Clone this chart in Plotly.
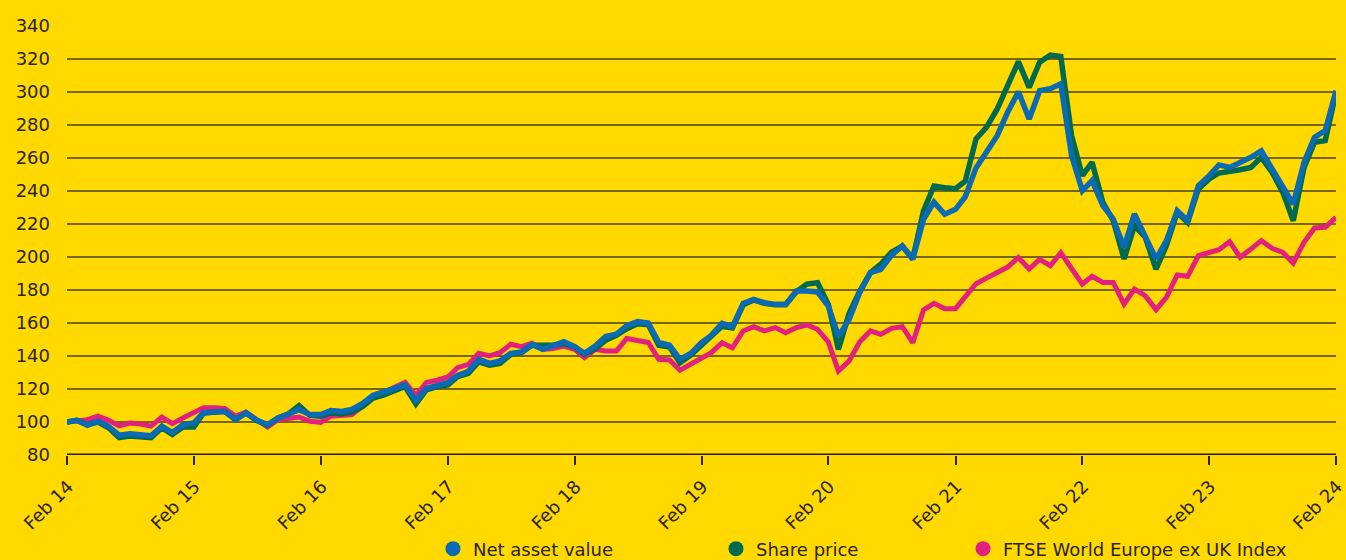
import pandas as pd
import plotly.graph_objects as go

# Monthly observations, Feb 2014 .. Feb 2024 (rebased to 100)
dates = pd.date_range("2014-02-01", periods=121, freq="MS")

nav = [100, 101, 98, 100.4, 97.3, 92, 92.8, 92, 91.7, 97.5, 93.6, 98.4,
       99.4, 105.6, 106, 106.4, 101.4, 105.6, 101, 98.4, 102.3, 104.5, 107.5, 104.5,
       104.5, 107, 106.4, 107.6, 111.3, 116.3, 118, 120.4, 122.5, 113, 120.3, 122.3,
       123.8, 128.2, 130.8, 138, 135.5, 137, 141.6, 142.4, 147, 144, 146, 148.6,
       145.7, 141.6, 146, 151.8, 153.3, 158.4, 160.8, 160, 148.2, 146.5, 138, 141.6,
       148.2, 152.5, 159.8, 157.8, 171.9, 174.3, 172.3, 171.3, 171.3, 179.4, 179.4, 178.8,
       170.3, 152, 162.2, 178.4, 190.5, 192.5, 201, 206.7, 198.6, 222.8, 233.3, 225.9,
       228.9, 236.5, 254, 263.4, 273.5, 287.7, 300.2, 283.6, 300.8, 302, 305, 261.4,
       240.2, 246.3, 231.1, 223, 205.9, 226.1, 212.9, 198.8, 209.9, 228.1, 222, 243.2,
       249.3, 255.8, 254.3, 257, 260.4, 264.4, 253.3, 242.2, 232.1, 257.4, 272.5, 276.6,
       300.8]

share_price = [100, 101, 98.5, 100, 96.5, 90.5, 91.5, 91, 90.5, 96.5, 92.5, 97,
               97, 105.5, 106, 106.5, 101.5, 105.5, 101, 98, 102.5, 105, 110, 104,
               103.5, 105.5, 105, 106, 109.5, 114.5, 116.5, 119, 121.5, 111, 119.5, 121.5,
               122.5, 127.5, 129.5, 136.5, 134.5, 135.5, 141, 142, 146.5, 146.5, 146.5, 147.5,
               145.5, 141, 144.5, 149.5, 152.5, 156.5, 159.5, 159, 146.5, 145.5, 136, 140.5,
               146.5, 152, 158, 157, 171, 174, 172, 171, 171, 179, 183.6, 184.4,
               171.3, 144, 165.9, 179, 190.5, 195.6, 203, 206.7, 199, 228, 243, 242,
               241.4, 246, 271.5, 278.6, 289.7, 303.8, 318.4, 302.8, 318, 322.4, 321.6, 273.5,
               249.3, 257.4, 233.1, 222, 198.8, 219, 212, 192.7, 206.9, 227.1, 221, 241.2,
               247.3, 250.9, 251.7, 252.9, 254.3, 260.4, 251.3, 239.2, 222, 254.3, 269.5, 270.5,
               299.8]

ftse_europe_ex_uk = [100, 101, 101.4, 103.5, 101, 97.7, 99.4, 98.8, 97.5, 103, 99, 102.5,
                     105.6, 108.7, 108.7, 108.2, 103.5, 106, 101.4, 97, 101.4, 101.9, 103, 100.4,
                     99.8, 103.5, 104, 104.5, 109.7, 115.5, 118, 121, 124, 116, 124, 125.3,
                     127.3, 132.9, 134.9, 141.6, 140, 142, 147.1, 145.7, 147.8, 144, 144.5, 146,
                     144, 139, 144, 143, 143, 150.6, 149.2, 148.2, 138, 137.6, 131.4, 134.9,
                     138.4, 142, 148, 145, 155.2, 157.8, 155.2, 157.2, 154.1, 157.2, 158.8, 156.2,
                     148.5, 130.9, 137, 148.5, 155.2, 153.1, 156.8, 157.8, 148.1, 167.9, 171.9, 168.7,
                     168.7, 176.4, 183.8, 187.2, 190.8, 193.9, 199.7, 192.7, 198.6, 194.7, 202.6, 192.7,
                     183.6, 188.3, 184.6, 184.6, 171.5, 180.6, 176.6, 168.1, 175.6, 189.1, 188.3, 200.8,
                     202.4, 204.4, 209.3, 199.8, 204.8, 209.9, 205.3, 202.8, 196.4, 208.9, 217.6, 218,
                     224]

series_names = ["Net asset value", "Share price", "FTSE World Europe ex UK Index"]
y_ticks = [80, 100, 120, 140, 160, 180, 200, 220, 240, 260, 280, 300, 320, 340]
x_ticks = pd.date_range("2014-02-01", "2024-02-01", freq="12MS")

BG = "#FFD900"
BLUE = "#0A6AB4"
GREEN = "#006A50"
PINK = "#E1207F"
TEXT = "#2A2418"
FONT = "DejaVu Sans"

fig = go.Figure()
# draw order: index, share price, NAV on top
fig.add_trace(go.Scatter(x=dates, y=ftse_europe_ex_uk, mode="lines",
                         line=dict(color=PINK, width=5), showlegend=False))
fig.add_trace(go.Scatter(x=dates, y=share_price, mode="lines",
                         line=dict(color=GREEN, width=5.5), showlegend=False))
fig.add_trace(go.Scatter(x=dates, y=nav, mode="lines",
                         line=dict(color=BLUE, width=5.5), showlegend=False))

# legend entries (round markers), one legend each for exact placement
for name, col, lg in zip(series_names, [BLUE, GREEN, PINK], ["legend", "legend2", "legend3"]):
    fig.add_trace(go.Scatter(x=[None], y=[None], mode="markers", name=name,
                             marker=dict(color=col, size=15, symbol="circle"),
                             legend=lg, showlegend=True))

legend_common = dict(orientation="h", yanchor="middle", xanchor="left", y=-0.219,
                     bgcolor="rgba(0,0,0,0)", font=dict(family=FONT, size=18, color=TEXT),
                     itemwidth=30)

fig.update_layout(
    width=1346, height=560, autosize=False,
    paper_bgcolor=BG, plot_bgcolor=BG,
    margin=dict(l=67, r=10, t=26, b=105, autoexpand=False),
    font=dict(family=FONT, size=18, color=TEXT),
    legend=dict(x=0.2884, **legend_common),
    legend2=dict(x=0.5114, **legend_common),
    legend3=dict(x=0.7061, **legend_common),
    xaxis=dict(
        range=[dates[0], dates[-1]],
        tickvals=x_ticks, tickformat="%b %y", tickangle=-45,
        ticks="outside", ticklen=9, tickwidth=1.5, tickcolor=TEXT,
        ticklabelshift=1, ticklabelstandoff=4, ticklabeloverflow="allow",
        showgrid=False, showline=False, zeroline=False, automargin=False,
        tickfont=dict(family=FONT, size=18, color=TEXT),
    ),
    yaxis=dict(
        range=[80, 340], tickvals=y_ticks,
        showgrid=True, gridcolor="#75660A", gridwidth=2,
        showline=False, zeroline=False, ticks="", automargin=False,
        ticklabelstandoff=16,
        tickfont=dict(family=FONT, size=18, color=TEXT),
    ),
    shapes=[dict(type="line", xref="paper", yref="y", x0=0, x1=1, y0=80, y1=80,
                 line=dict(color="#231F12", width=3), layer="above")],
)

fig.write_html(
    "out.html",
    config={"responsive": False, "displayModeBar": False},
    post_script="document.body.style.margin='0';document.body.style.padding='0';"
                "document.body.style.overflow='hidden';"
                "document.body.style.background='" + BG + "';",
)
